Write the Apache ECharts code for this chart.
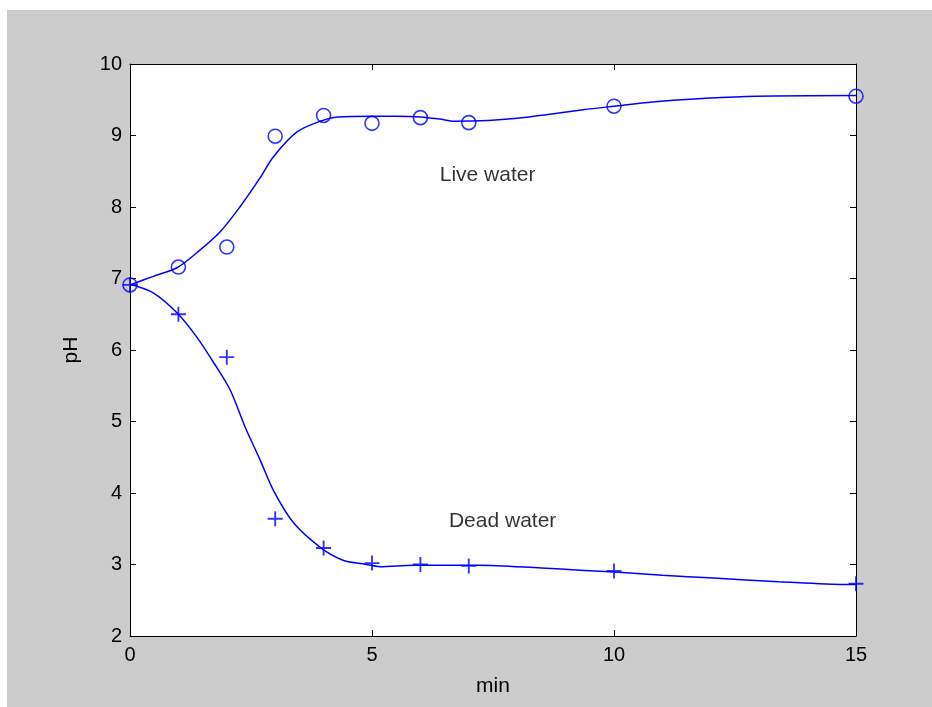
<!DOCTYPE html>
<html>
<head>
<meta charset="utf-8">
<script src="https://cdn.jsdelivr.net/npm/echarts@6/dist/echarts.min.js"></script>
<style>
html,body{margin:0;padding:0;background:#fff;width:932px;height:707px;overflow:hidden;}
#chart{position:absolute;left:7px;top:10px;width:925px;height:697px;background:#cccccc;}
</style>
</head>
<body>
<div id="chart"></div>
<script>
// Measured marker values
const minutes = [0, 1, 2, 3, 4, 5, 6, 7, 10, 15];
const liveWater = [6.91, 7.16, 7.44, 8.99, 9.28, 9.17, 9.25, 9.18, 9.41, 9.55];
const deadWater = [6.91, 6.50, 5.90, 3.64, 3.23, 3.02, 3.00, 2.98, 2.91, 2.73];

// Fitted curves
const liveCurveX = [0, 0.48, 0.97, 1.38, 1.86, 2.27, 2.69, 2.96, 3.45, 3.93, 4.3, 5, 5.5, 6, 6.4, 6.7, 7.4, 8.0, 8.6, 9.36, 10, 10.8, 11.9, 12.95, 15];
const liveCurveY = [6.91, 7.03, 7.15, 7.36, 7.65, 8.0, 8.41, 8.70, 9.05, 9.20, 9.26, 9.27, 9.27, 9.26, 9.23, 9.20, 9.21, 9.24, 9.29, 9.36, 9.41, 9.47, 9.52, 9.55, 9.56];
const deadCurveX = [0, 0.48, 0.97, 1.38, 1.76, 2.07, 2.38, 2.69, 2.96, 3.37, 3.93, 4.4, 4.81, 5.17, 5.85, 7.2, 8.5, 9.3, 10.1, 11.0, 12.05, 13.4, 14.8, 15];
const deadCurveY = [6.92, 6.80, 6.52, 6.18, 5.79, 5.44, 4.92, 4.46, 4.04, 3.59, 3.24, 3.06, 3.01, 2.97, 2.99, 2.99, 2.95, 2.92, 2.89, 2.85, 2.81, 2.76, 2.72, 2.72];

// Annotations
const annotationText = ['Live water', 'Dead water'];
const annotationX = [6.4, 6.59];
const annotationY = [8.45, 3.61];

const xTicks = [0, 5, 10, 15];
const yTicks = [2, 3, 4, 5, 6, 7, 8, 9, 10];

const BLUE = '#0000ff';
const FONT = 'Liberation Sans, Arial, sans-serif';

const zip = (a, b) => a.map((v, i) => [v, b[i]]);
const plusPath = 'path://M7,0L9,0L9,7L16,7L16,9L9,9L9,16L7,16L7,9L0,9L0,7L7,7Z';

const chart = echarts.init(document.getElementById('chart'), null, {renderer: 'canvas'});

const axisCommon = {
  axisLine: {show: true, onZero: false, lineStyle: {color: '#000', width: 1}},
  axisTick: {show: true, inside: true, length: 6, lineStyle: {color: '#000', width: 1}},
  splitLine: {show: false}
};

chart.setOption({
  animation: false,
  backgroundColor: '#cccccc',
  grid: {left: 123, top: 54, right: 76, bottom: 71, show: true, backgroundColor: '#ffffff', borderWidth: 0},
  xAxis: [
    Object.assign({
      type: 'value', min: xTicks[0], max: xTicks[xTicks.length - 1], interval: 5, position: 'bottom',
      name: 'min', nameLocation: 'middle', nameGap: 40,
      nameTextStyle: {fontFamily: FONT, fontSize: 21, color: '#000'},
      axisLabel: {fontFamily: FONT, fontSize: 20, color: '#000', margin: 9}
    }, axisCommon),
    Object.assign({
      type: 'value', min: xTicks[0], max: xTicks[xTicks.length - 1], interval: 5, position: 'top',
      axisLabel: {show: false}
    }, axisCommon)
  ],
  yAxis: [
    Object.assign({
      type: 'value', min: yTicks[0], max: yTicks[yTicks.length - 1], interval: 1, position: 'left',
      name: 'pH', nameLocation: 'middle', nameGap: 48, nameRotate: 90,
      nameTextStyle: {fontFamily: FONT, fontSize: 21, color: '#000'},
      axisLabel: {fontFamily: FONT, fontSize: 20, color: '#000', margin: 8}
    }, axisCommon),
    Object.assign({
      type: 'value', min: yTicks[0], max: yTicks[yTicks.length - 1], interval: 1, position: 'right',
      axisLabel: {show: false}
    }, axisCommon)
  ],
  series: [
    {
      type: 'line', data: zip(liveCurveX, liveCurveY), smooth: 0.3, showSymbol: false,
      lineStyle: {color: BLUE, width: 1.5}, z: 3
    },
    {
      type: 'line', data: zip(deadCurveX, deadCurveY), smooth: 0.3, showSymbol: false,
      lineStyle: {color: BLUE, width: 1.5}, z: 3
    },
    {
      type: 'scatter', data: zip(minutes, liveWater), symbol: 'circle', symbolSize: 14,
      itemStyle: {color: 'rgba(0,0,0,0)', borderColor: BLUE, borderWidth: 1.6}, z: 4
    },
    {
      type: 'scatter', data: zip(minutes, deadWater), symbol: plusPath, symbolSize: 15,
      itemStyle: {color: BLUE}, z: 4
    },
    {
      type: 'scatter', symbolSize: 0, silent: true,
      data: annotationText.map((t, i) => ({value: [annotationX[i], annotationY[i]], name: t})),
      label: {show: true, position: 'right', distance: 0, formatter: p => p.name,
        fontFamily: FONT, fontSize: 21, color: '#000'},
      z: 5
    }
  ]
});
</script>
</body>
</html>
